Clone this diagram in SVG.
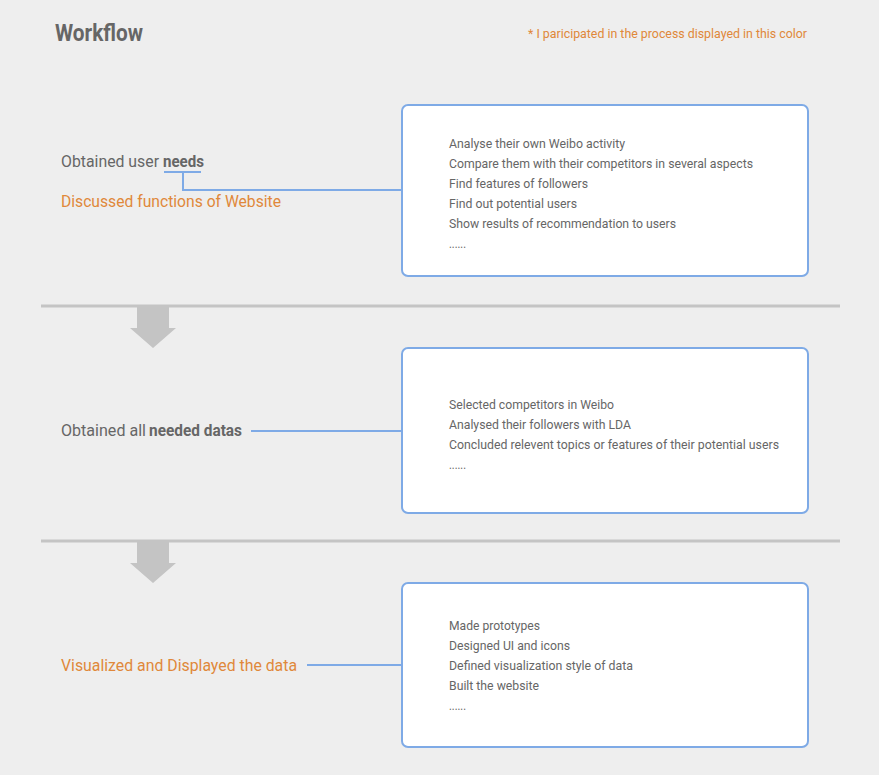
<svg xmlns="http://www.w3.org/2000/svg" width="879" height="775" viewBox="0 0 879 775">
<style>
text{font-family:Roboto,"Liberation Sans",sans-serif}
.t{font-size:24px;font-weight:bold;fill:#666}
.lg{font-size:13px;fill:#e0883a}
.lb{font-size:16.5px;fill:#666}
.or{font-size:16.5px;fill:#e0883a}
.b{font-weight:bold}
.it{font-size:13px;fill:#666}
.box{fill:#fff;stroke:#7eaae6;stroke-width:2}
.con{fill:none;stroke:#7eaae6;stroke-width:2}
.sep{stroke:#c4c4c4;stroke-width:3}
.arr{fill:#c4c4c4}
</style>
<rect width="879" height="775" fill="#eeeeee"/>
<text class="t" x="55" y="41" textLength="88" lengthAdjust="spacingAndGlyphs">Workflow</text>
<text class="lg" x="528" y="38" textLength="279" lengthAdjust="spacingAndGlyphs">* I paricipated in the process displayed in this color</text>

<g id="separators">
<line class="sep" x1="41" y1="306" x2="840" y2="306"/>
<polygon class="arr" points="137,306 169,306 169,328 176,328 153,348 130,328 137,328"/>
<line class="sep" x1="41" y1="541" x2="840" y2="541"/>
<polygon class="arr" points="137,541 169,541 169,563 176,563 153,583 130,563 137,563"/>
</g>

<g id="connectors">
<path class="con" d="M164,172 H201 M183,172 V190 H402"/>
<path class="con" d="M251,431 H402"/>
<path class="con" d="M307,665 H402"/>
</g>

<g id="step1-label">
<text class="lb" x="61" y="167" textLength="98" lengthAdjust="spacingAndGlyphs">Obtained user</text>
<text class="lb b" x="163" y="167" textLength="41" lengthAdjust="spacingAndGlyphs">needs</text>
<text class="or" x="61" y="207" textLength="220" lengthAdjust="spacingAndGlyphs">Discussed functions of Website</text>
</g>
<g id="step1-box">
<rect class="box" x="402" y="105" width="406" height="171" rx="6"/>
<text class="it" x="449" y="148" textLength="176" lengthAdjust="spacingAndGlyphs">Analyse their own Weibo activity</text>
<text class="it" x="449" y="168" textLength="304" lengthAdjust="spacingAndGlyphs">Compare them with their competitors in several aspects</text>
<text class="it" x="449" y="188" textLength="139" lengthAdjust="spacingAndGlyphs">Find features of followers</text>
<text class="it" x="449" y="208" textLength="128" lengthAdjust="spacingAndGlyphs">Find out potential users</text>
<text class="it" x="449" y="228" textLength="227" lengthAdjust="spacingAndGlyphs">Show results of recommendation to users</text>
<text class="it" x="449" y="248" textLength="17" lengthAdjust="spacingAndGlyphs">......</text>
</g>

<g id="step2-label">
<text class="lb" x="61" y="436" textLength="85" lengthAdjust="spacingAndGlyphs">Obtained all</text>
<text class="lb b" x="149" y="436" textLength="93" lengthAdjust="spacingAndGlyphs">needed datas</text>
</g>
<g id="step2-box">
<rect class="box" x="402" y="348" width="406" height="165" rx="6"/>
<text class="it" x="449" y="409" textLength="165" lengthAdjust="spacingAndGlyphs">Selected competitors in Weibo</text>
<text class="it" x="449" y="429" textLength="182" lengthAdjust="spacingAndGlyphs">Analysed their followers with LDA</text>
<text class="it" x="449" y="449" textLength="330" lengthAdjust="spacingAndGlyphs">Concluded relevent topics or features of their potential users</text>
<text class="it" x="449" y="469" textLength="17" lengthAdjust="spacingAndGlyphs">......</text>
</g>

<g id="step3-label">
<text class="or" x="61" y="671" textLength="236" lengthAdjust="spacingAndGlyphs">Visualized and Displayed the data</text>
</g>
<g id="step3-box">
<rect class="box" x="402" y="583" width="406" height="164" rx="6"/>
<text class="it" x="449" y="630" textLength="91" lengthAdjust="spacingAndGlyphs">Made prototypes</text>
<text class="it" x="449" y="650" textLength="121" lengthAdjust="spacingAndGlyphs">Designed UI and icons</text>
<text class="it" x="449" y="670" textLength="184" lengthAdjust="spacingAndGlyphs">Defined visualization style of data</text>
<text class="it" x="449" y="690" textLength="90" lengthAdjust="spacingAndGlyphs">Built the website</text>
<text class="it" x="449" y="710" textLength="17" lengthAdjust="spacingAndGlyphs">......</text>
</g>
</svg>
